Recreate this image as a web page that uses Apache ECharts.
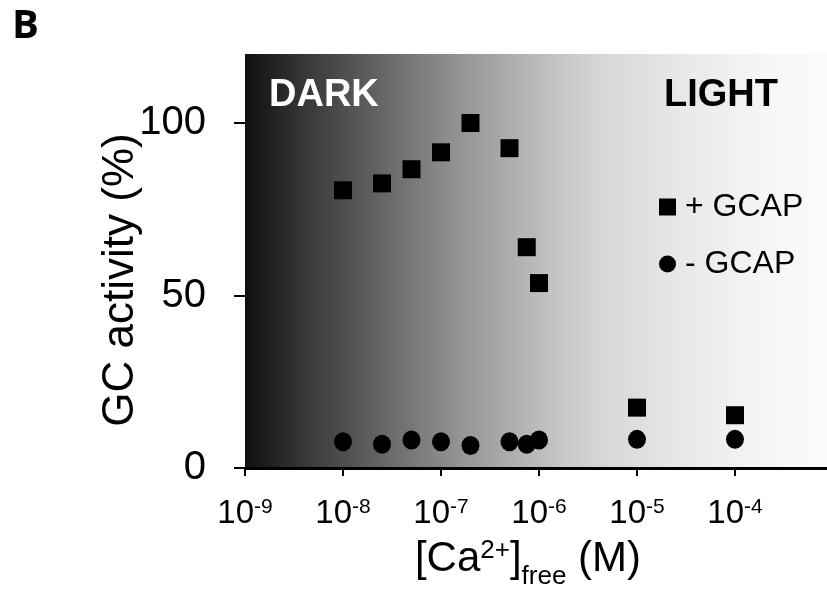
<!DOCTYPE html>
<html><head><meta charset="utf-8">
<script src="https://cdn.jsdelivr.net/npm/echarts@6/dist/echarts.min.js"></script>
<style>html,body{margin:0;padding:0;background:#fff}#c{width:827px;height:597px}</style>
</head><body><div id="c"></div>
<script>
// Data
const caPlus = [1e-8, 2.5e-8, 5e-8, 1e-7, 2e-7, 5e-7, 7.5e-7, 1e-6, 1e-5, 1e-4];
const actPlus = [80.5, 82.5, 86.6, 91.5, 100, 92.7, 64, 53.6, 17.5, 15.3];
const caMinus = [1e-8, 2.5e-8, 5e-8, 1e-7, 2e-7, 5e-7, 7.5e-7, 1e-6, 1e-5, 1e-4];
const actMinus = [7.6, 6.9, 8.1, 7.6, 6.5, 7.6, 6.9, 8.1, 8.3, 8.3];
const xTicks = [1e-9, 1e-8, 1e-7, 1e-6, 1e-5, 1e-4];
const yTicks = [0, 50, 100];
const seriesNames = ['+ GCAP', '- GCAP'];
const panelLabel = 'B';
const regionLabels = ['DARK', 'LIGHT'];

const FONT = '"Liberation Sans", Arial, Helvetica, sans-serif';
const chart = echarts.init(document.getElementById('c'), null, {renderer: 'canvas'});

const zip = (xs, ys) => xs.map((x, i) => [x, ys[i]]);

const option = {
  animation: false,
  backgroundColor: '#fff',
  title: [
    {text: panelLabel, left: 7, top: 2, textStyle: {fontFamily: '"Open Sans", sans-serif', fontWeight: 'bold', fontSize: 40, color: '#000'}},
    {text: regionLabels[0], left: 264, top: 72, textStyle: {fontFamily: FONT, fontWeight: 'bold', fontSize: 38, color: '#fff'}},
    {text: regionLabels[1], right: 44, top: 72, textStyle: {fontFamily: FONT, fontWeight: 'bold', fontSize: 38, color: '#000'}}
  ],
  grid: {
    left: 245, right: 0, top: 54, bottom: 129,
    show: true, borderWidth: 0,
    backgroundColor: new echarts.graphic.LinearGradient(0, 0, 1, 0, [
      {offset: 0, color: '#0f0f0f'},
      {offset: 0.1, color: '#363636'},
      {offset: 0.35, color: '#8e8e8e'},
      {offset: 0.54, color: '#c6c6c6'},
      {offset: 0.61, color: '#d6d6d6'},
      {offset: 0.75, color: '#e8e8e8'},
      {offset: 0.885, color: '#f5f5f5'},
      {offset: 1, color: '#fbfbfb'}
    ])
  },
  legend: {
    orient: 'vertical', left: 654, top: 186,
    itemWidth: 17, itemHeight: 17, itemGap: 25,
    textStyle: {fontFamily: FONT, fontSize: 32, color: '#000', padding: [0, 0, 0, 4]},
    data: [{name: seriesNames[0], icon: 'rect'}, {name: seriesNames[1], icon: 'circle'}]
  },
  xAxis: {
    type: 'log', logBase: 10, min: 1e-9, max: 8.69e-4,
    axisLine: {show: true, lineStyle: {color: '#000', width: 3}},
    axisTick: {show: true, length: 8, lineStyle: {color: '#000', width: 2}, customValues: xTicks},
    splitLine: {show: false},
    axisLabel: {
      customValues: xTicks, margin: 29,
      formatter: v => '{b|10}{s|' + Math.round(Math.log10(v)) + '}',
      rich: {
        b: {fontFamily: FONT, fontSize: 33, lineHeight: 36, verticalAlign: 'top', color: '#000'},
        s: {fontFamily: FONT, fontSize: 21, lineHeight: 21, verticalAlign: 'top', color: '#000'}
      }
    },
    name: '{n|[Ca}{sp|2+}{n|]}{sb|free}{n| (M)}',
    nameLocation: 'middle', nameGap: 70, nameMoveOverlap: false,
    nameTextStyle: {
      padding: [0, 16, 0, 0],
      rich: {
        n: {fontFamily: FONT, fontSize: 42, lineHeight: 48, verticalAlign: 'top', color: '#000'},
        sp: {fontFamily: FONT, fontSize: 26, lineHeight: 26, verticalAlign: 'top', color: '#000'},
        sb: {fontFamily: FONT, fontSize: 26, lineHeight: 26, verticalAlign: 'top', padding: [26, 0, 0, 0], color: '#000'}
      }
    }
  },
  yAxis: {
    type: 'value', min: 0, max: 120,
    axisLine: {show: false},
    axisTick: {show: true, length: 11, lineStyle: {color: '#000', width: 2}, customValues: yTicks},
    splitLine: {show: false},
    axisLabel: {customValues: yTicks, margin: 39, fontFamily: FONT, fontSize: 40, color: '#000'},
    name: 'GC activity (%)', nameLocation: 'middle', nameGap: 102, nameMoveOverlap: false,
    nameTextStyle: {fontFamily: FONT, fontSize: 44, color: '#000', padding: [0, 38, 0, 0]}
  },
  series: [
    {name: seriesNames[0], type: 'scatter', symbol: 'rect', symbolSize: 18,
     itemStyle: {color: '#000', opacity: 1}, data: zip(caPlus, actPlus)},
    {name: seriesNames[1], type: 'scatter', symbol: 'circle', symbolSize: [18, 19],
     itemStyle: {color: '#000', opacity: 1}, data: zip(caMinus, actMinus)}
  ]
};
chart.setOption(option);
</script></body></html>
